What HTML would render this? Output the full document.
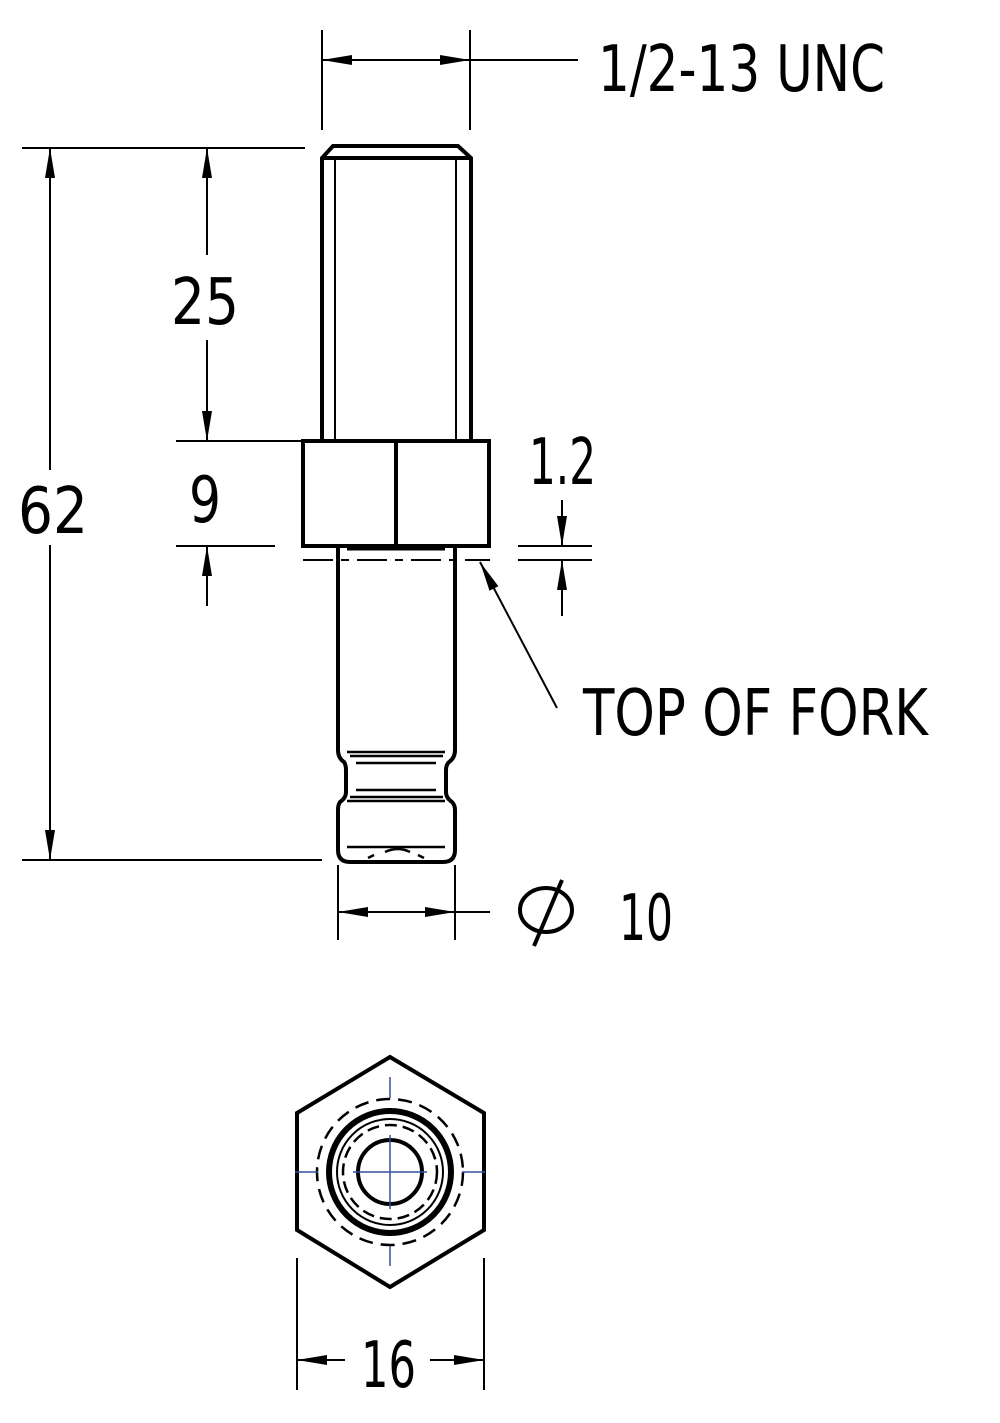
<!DOCTYPE html>
<html><head><meta charset="utf-8"><style>html,body{margin:0;padding:0;background:#fff}svg{display:block}</style></head><body>
<svg width="1000" height="1423" viewBox="0 0 1000 1423" xmlns="http://www.w3.org/2000/svg">
<defs>
<marker id="a" viewBox="0 0 30 10" refX="30" refY="5" markerWidth="30" markerHeight="10" markerUnits="userSpaceOnUse" orient="auto-start-reverse"><path d="M0,0 L30,5 L0,10 z" fill="#000"/></marker>
</defs>
<g fill="none" stroke="#000">
<!-- threaded shank -->
<g stroke-width="4">
<path d="M322,440 V158 L333,146 H458 L471,158 V440"/>
<line x1="322" y1="158" x2="471" y2="158"/>
</g>
<line x1="335" y1="158" x2="335" y2="440" stroke-width="2"/>
<line x1="456" y1="158" x2="456" y2="440" stroke-width="2"/>
<!-- hex nut -->
<rect x="303" y="441" width="186" height="105" stroke-width="4"/>
<line x1="396" y1="441" x2="396" y2="546" stroke-width="4"/>
<line x1="347" y1="549" x2="445" y2="549" stroke-width="3"/>
<!-- lower shank -->
<path d="M338,546 V750 Q338,758 344,762 Q346,765 346,770 V792 Q346,798 340,802 Q338,805 338,810 V850 Q338,862 350,862 H443 Q455,862 455,850 V810 Q455,805 452,802 Q446,798 446,792 V770 Q446,765 449,762 Q455,758 455,750 V546" stroke-width="4"/>
<g stroke-width="2.5">
<line x1="347" y1="752" x2="445" y2="752"/>
<line x1="350" y1="756" x2="443" y2="756"/>
<line x1="356" y1="763" x2="436" y2="763"/>
<line x1="356" y1="790" x2="436" y2="790"/>
<line x1="350" y1="797" x2="443" y2="797"/>
<line x1="347" y1="801" x2="445" y2="801"/>
<line x1="347" y1="847" x2="445" y2="847"/>
<path d="M385,852 Q398,846 410,852"/>
<path d="M368,858 L374,855 M418,855 L424,858"/>
</g>
<!-- top of fork dashed -->
<line x1="303" y1="560" x2="490" y2="560" stroke-width="2" stroke-dasharray="30,8,8,8"/>
<!-- dims -->
<g stroke-width="2">
<line x1="322" y1="30" x2="322" y2="130"/><line x1="470" y1="30" x2="470" y2="130"/>
<line x1="322" y1="60" x2="470" y2="60" marker-start="url(#a)" marker-end="url(#a)"/>
<line x1="470" y1="60" x2="578" y2="60"/>
<line x1="22" y1="148" x2="305" y2="148"/><line x1="22" y1="860" x2="322" y2="860"/>
<line x1="50" y1="148" x2="50" y2="470" marker-start="url(#a)"/>
<line x1="50" y1="545" x2="50" y2="860" marker-end="url(#a)"/>
<line x1="207" y1="148" x2="207" y2="255" marker-start="url(#a)"/>
<line x1="207" y1="340" x2="207" y2="441" marker-end="url(#a)"/>
<line x1="176" y1="441" x2="303" y2="441"/>
<line x1="176" y1="546" x2="275" y2="546"/>
<line x1="207" y1="606" x2="207" y2="546" marker-end="url(#a)"/>
<line x1="518" y1="546" x2="592" y2="546"/><line x1="518" y1="560" x2="592" y2="560"/>
<line x1="562" y1="500" x2="562" y2="546" marker-end="url(#a)"/>
<line x1="562" y1="616" x2="562" y2="560" marker-end="url(#a)"/>
<line x1="557" y1="708" x2="480" y2="562" marker-end="url(#a)"/>
<line x1="338" y1="865" x2="338" y2="940"/><line x1="455" y1="865" x2="455" y2="940"/>
<line x1="338" y1="912" x2="455" y2="912" marker-start="url(#a)" marker-end="url(#a)"/>
<line x1="455" y1="912" x2="490" y2="912"/>
<line x1="297" y1="1258" x2="297" y2="1390"/><line x1="484" y1="1258" x2="484" y2="1390"/>
<line x1="297" y1="1360" x2="345" y2="1360" marker-start="url(#a)"/>
<line x1="430" y1="1360" x2="484" y2="1360" marker-end="url(#a)"/>
</g>
<!-- bottom hex view -->
<polygon points="390,1057 484,1113 484,1230 390,1287 297,1230 297,1113" stroke-width="4"/>
<circle cx="390" cy="1172" r="73" stroke-width="2.5" stroke-dasharray="14,8"/>
<circle cx="390" cy="1172" r="61" stroke-width="6"/>
<circle cx="390" cy="1172" r="53" stroke-width="2"/>
<circle cx="390" cy="1172" r="47" stroke-width="2.5" stroke-dasharray="12,6"/>
<circle cx="390" cy="1172" r="32" stroke-width="4"/>
<g stroke="#3050a0" stroke-width="1.5">
<line x1="353" y1="1172" x2="427" y2="1172"/><line x1="390" y1="1135" x2="390" y2="1209"/>
<line x1="295" y1="1172" x2="318" y2="1172"/><line x1="462" y1="1172" x2="485" y2="1172"/>
<line x1="390" y1="1077" x2="390" y2="1098"/><line x1="390" y1="1246" x2="390" y2="1266"/>
</g>
<!-- phi -->
<ellipse cx="546" cy="910" rx="26" ry="22" stroke-width="4"/>
<line x1="562" y1="880" x2="534" y2="946" stroke-width="4"/>
</g>
<g font-family="'DejaVu Sans','Liberation Sans',sans-serif" font-size="64" fill="#000" font-weight="normal">
<text x="598" y="91" textLength="287" lengthAdjust="spacingAndGlyphs">1/2-13 UNC</text>
<text x="18" y="533" textLength="70" lengthAdjust="spacingAndGlyphs">62</text>
<text x="171" y="324" textLength="68" lengthAdjust="spacingAndGlyphs">25</text>
<text x="189" y="522" textLength="32" lengthAdjust="spacingAndGlyphs">9</text>
<text x="529" y="484" textLength="67" lengthAdjust="spacingAndGlyphs">1.2</text>
<text x="583" y="735" textLength="345" lengthAdjust="spacingAndGlyphs">TOP OF FORK</text>
<text x="619" y="940" textLength="54" lengthAdjust="spacingAndGlyphs">10</text>
<text x="361" y="1387" textLength="55" lengthAdjust="spacingAndGlyphs">16</text>
</g>
</svg>
</body></html>
